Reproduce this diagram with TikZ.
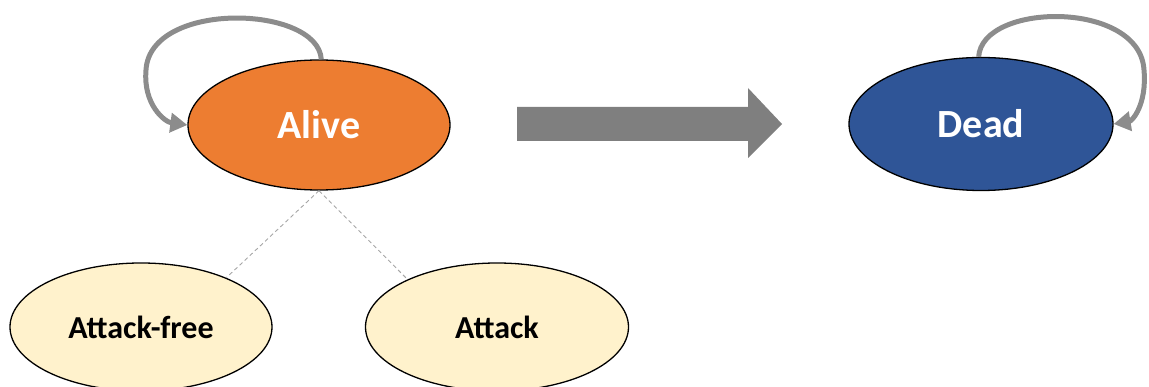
\documentclass[tikz,border=0pt]{standalone}
\usepackage{fontspec}
\setmainfont{Carlito}
\usetikzlibrary{arrows.meta,shapes.geometric}
\definecolor{aliveorange}{HTML}{ED7D31}
\definecolor{deadblue}{HTML}{2F5597}
\definecolor{substate}{HTML}{FFF2CC}
\definecolor{loopgray}{HTML}{8C8C8C}
\definecolor{bigarrowgray}{HTML}{7F7F7F}
\tikzset{
  state/.style={ellipse, draw=black, line width=1.3pt, inner sep=0pt, font=\bfseries},
  mainstate/.style={state, text=white, font=\fontsize{40}{40}\selectfont\bfseries},
  subst/.style={state, fill=substate, text=black, font=\fontsize{32}{32}\selectfont\bfseries},
  selfloop/.style={draw=loopgray, line width=5pt, -{Triangle[length=17pt,width=19pt]}},
  split/.style={draw=gray!70, line width=0.9pt, dashed, dash pattern=on 4pt off 3pt},
}
\begin{document}
\begin{tikzpicture}[x=1pt,y=-1pt]
\useasboundingbox (0,0) rectangle (1149,387);
\node[mainstate, fill=aliveorange, minimum width=262pt, minimum height=130pt] (alive) at (319,125) {Alive};
\node[mainstate, fill=deadblue, minimum width=264pt, minimum height=133pt] (dead) at (981,124) {Dead};
\node[subst, minimum width=262pt, minimum height=128pt] (af) at (141,327) {Attack-free};
\node[subst, minimum width=263pt, minimum height=128pt] (at) at (497,327) {Attack};
% self loops
\draw[selfloop] (alive.88) .. controls (318,5) and (150,0) .. (146,70)
  .. controls (143,105) and (165,122) .. (alive.west);
\draw[selfloop] (dead.92) .. controls (982,2) and (1140,0) .. (1144,70)
  .. controls (1147,105) and (1132,121) .. (dead.east);
% decomposition lines
\coordinate (split) at (alive.270);
\draw[split] (split) -- (af.30);
\draw[split] (split) -- (at.152);
% big transition arrow
\fill[bigarrowgray] (517,107) -- (748,107) -- (748,88) -- (782,124) -- (748,158) -- (748,141) -- (517,141) -- cycle;
\end{tikzpicture}
\end{document}
